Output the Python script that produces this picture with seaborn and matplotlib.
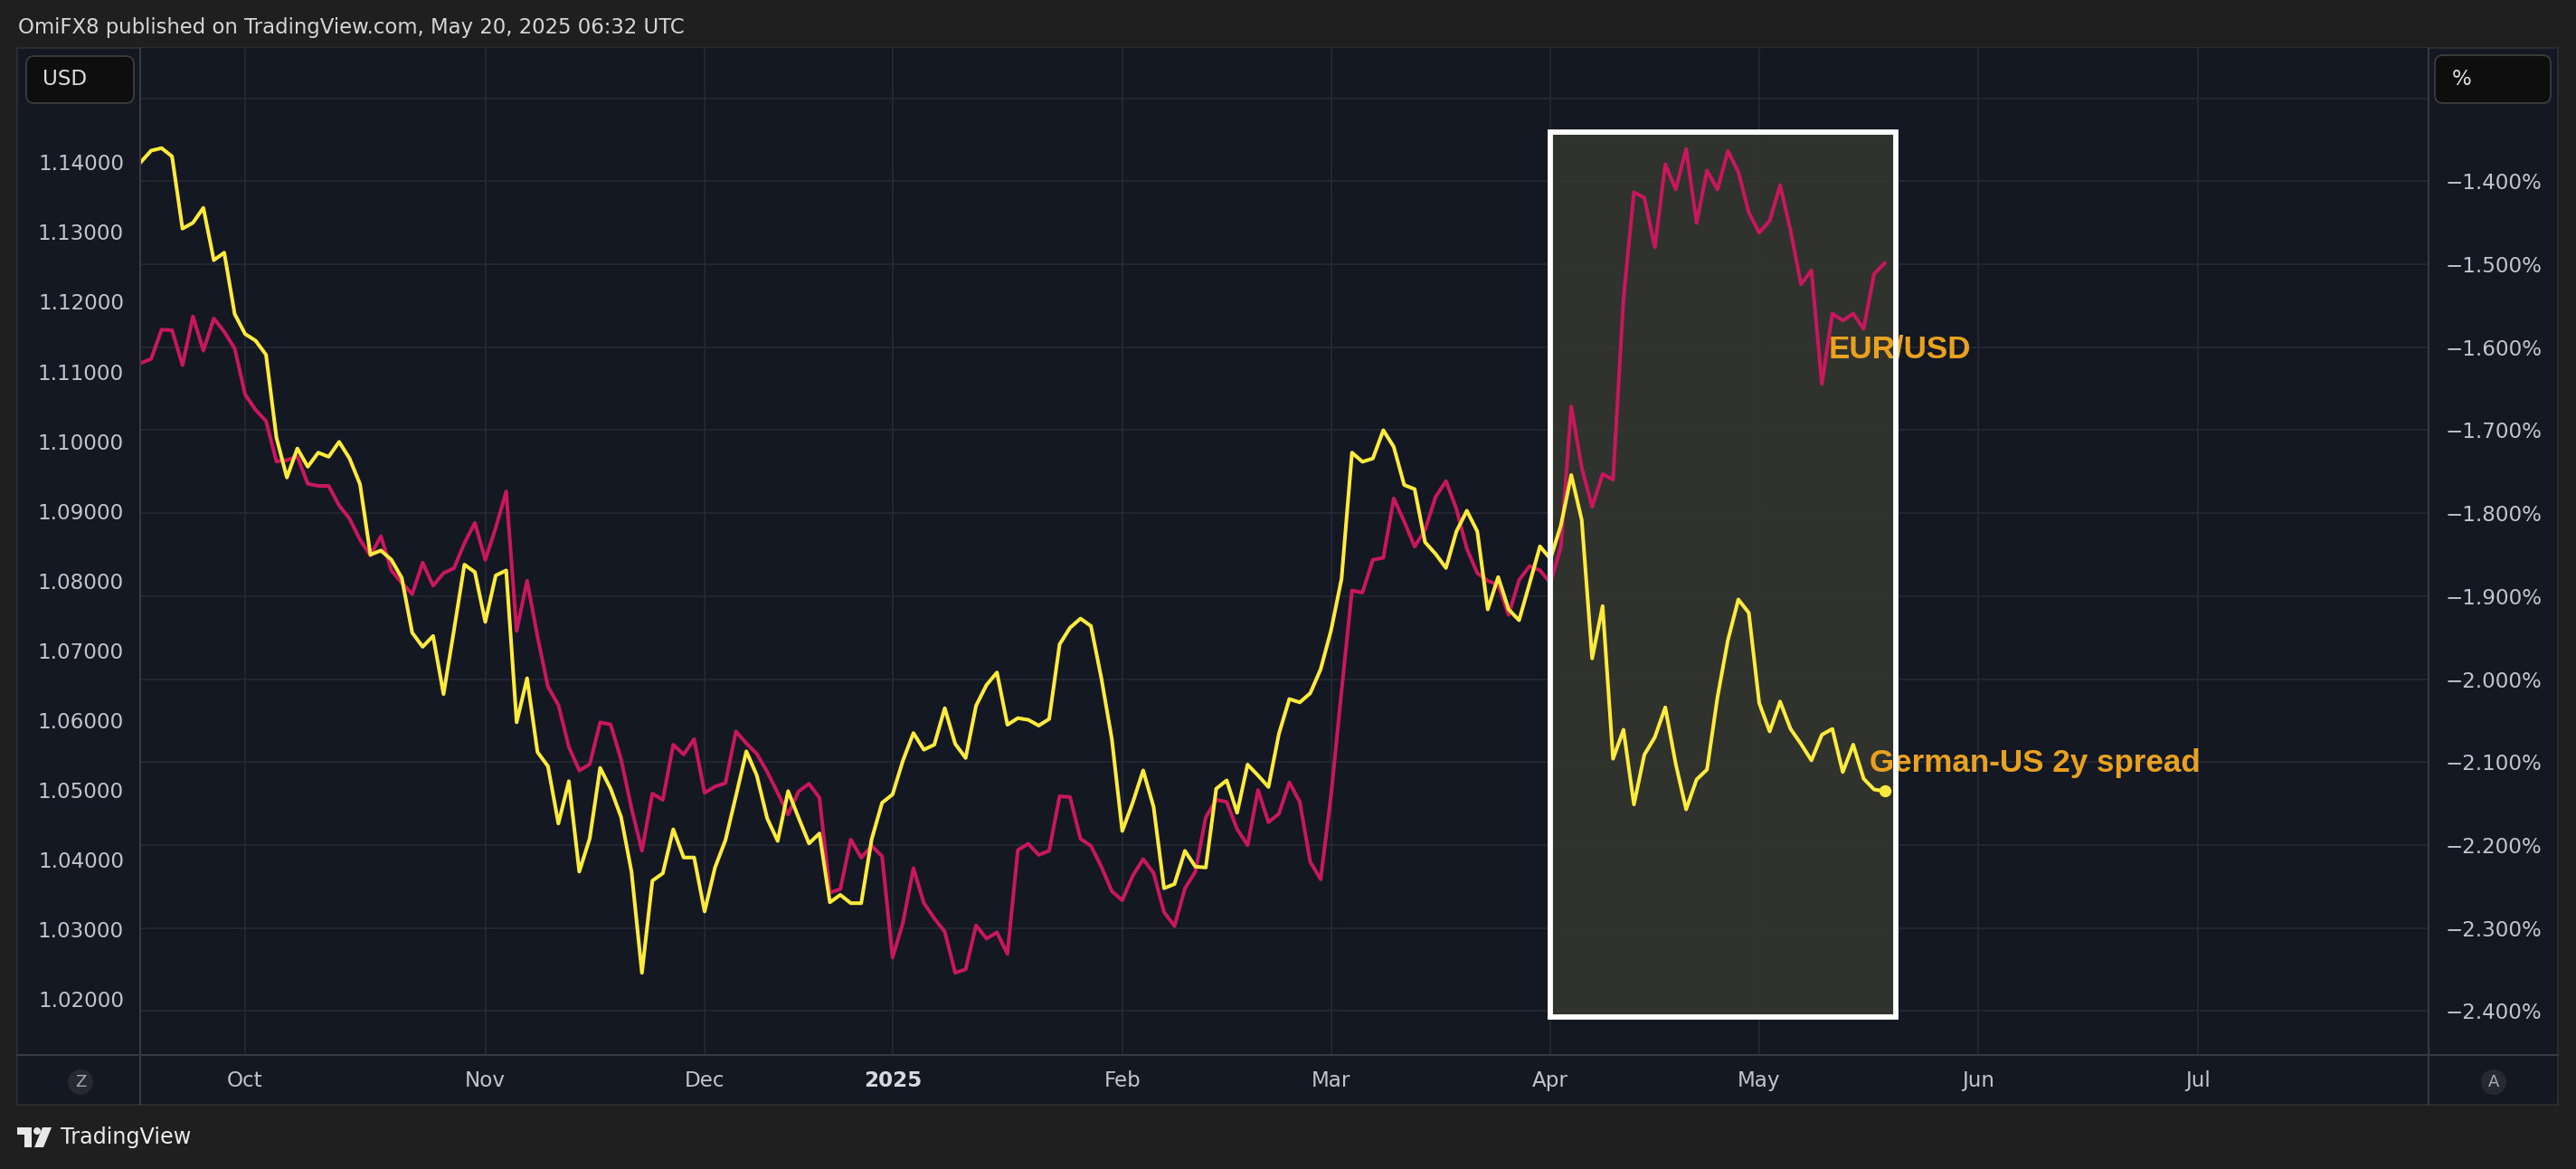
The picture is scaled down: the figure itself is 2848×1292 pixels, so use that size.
import numpy as np
import pandas as pd
import matplotlib
matplotlib.use("Agg")
import matplotlib.pyplot as plt
import matplotlib.transforms as mtransforms
from matplotlib.patches import Rectangle, FancyBboxPatch, Circle, Polygon
from matplotlib.lines import Line2D
import seaborn as sns

# ---------------- data ----------------
# trading calendar (Eurex-style holidays), Sep 17 2024 onwards
holidays = ["2024-12-24", "2024-12-25", "2024-12-26", "2024-12-31",
            "2025-01-01", "2025-04-18", "2025-04-21", "2025-05-01"]
calendar = pd.bdate_range("2024-09-17", "2025-08-29", freq="C", holidays=holidays)

eurusd = [
    1.1112, 1.1118, 1.1160, 1.1159, 1.1109, 1.1179, 1.1130, 1.1176, 1.1157, 1.1133,
    1.1067, 1.1045, 1.1029, 1.0971, 1.0973, 1.0978, 1.0939, 1.0936, 1.0936, 1.0908,
    1.0889, 1.0859, 1.0836, 1.0864, 1.0815, 1.0797, 1.0781, 1.0826, 1.0793, 1.0811,
    1.0818, 1.0854, 1.0883, 1.0830, 1.0876, 1.0928, 1.0728, 1.0800, 1.0720, 1.0648,
    1.0622, 1.0562, 1.0528, 1.0537, 1.0597, 1.0594, 1.0544, 1.0474, 1.0413, 1.0495,
    1.0486, 1.0565, 1.0551, 1.0573, 1.0496, 1.0505, 1.0510, 1.0584, 1.0567, 1.0552,
    1.0526, 1.0496, 1.0465, 1.0498, 1.0509, 1.0489, 1.0353, 1.0358, 1.0429, 1.0403,
    1.0420, 1.0405, 1.0260, 1.0310, 1.0388, 1.0338, 1.0316, 1.0297, 1.0238, 1.0243,
    1.0306, 1.0287, 1.0296, 1.0265, 1.0414, 1.0423, 1.0407, 1.0413, 1.0491, 1.0490,
    1.0430, 1.0420, 1.0390, 1.0355, 1.0342, 1.0377, 1.0401, 1.0381, 1.0325, 1.0305,
    1.0359, 1.0383, 1.0461, 1.0486, 1.0483, 1.0444, 1.0421, 1.0500, 1.0454, 1.0466,
    1.0511, 1.0483, 1.0397, 1.0372, 1.0493, 1.0642, 1.0786, 1.0783, 1.0830, 1.0833,
    1.0918, 1.0885, 1.0849, 1.0873, 1.0920, 1.0943, 1.0903, 1.0846, 1.0811, 1.0800,
    1.0794, 1.0751, 1.0801, 1.0821, 1.0815, 1.0797, 1.0848, 1.1050, 1.0962, 1.0906,
    1.0953, 1.0945, 1.1204, 1.1357, 1.1349, 1.1278, 1.1397, 1.1361, 1.1419, 1.1313,
    1.1388, 1.1361, 1.1416, 1.1386, 1.1328, 1.1299, 1.1316, 1.1367, 1.1302, 1.1225,
    1.1245, 1.1082, 1.1183, 1.1173, 1.1183, 1.1161, 1.1240, 1.1255,
]

spread_2y = [
    -1.377, -1.363, -1.360, -1.370, -1.457, -1.450, -1.432, -1.495, -1.486, -1.560,
    -1.584, -1.592, -1.609, -1.709, -1.757, -1.722, -1.744, -1.727, -1.732, -1.714,
    -1.734, -1.765, -1.850, -1.845, -1.856, -1.878, -1.944, -1.961, -1.948, -2.018,
    -1.941, -1.862, -1.871, -1.931, -1.875, -1.869, -2.052, -1.999, -2.088, -2.105,
    -2.174, -2.123, -2.232, -2.192, -2.107, -2.132, -2.166, -2.232, -2.354, -2.243,
    -2.234, -2.181, -2.215, -2.215, -2.280, -2.227, -2.194, -2.141, -2.087, -2.116,
    -2.168, -2.195, -2.135, -2.167, -2.198, -2.186, -2.269, -2.260, -2.270, -2.270,
    -2.193, -2.149, -2.139, -2.098, -2.065, -2.085, -2.079, -2.035, -2.078, -2.095,
    -2.032, -2.007, -1.992, -2.055, -2.047, -2.049, -2.056, -2.048, -1.958, -1.938,
    -1.927, -1.936, -1.999, -2.072, -2.183, -2.149, -2.110, -2.154, -2.252, -2.247,
    -2.207, -2.226, -2.227, -2.132, -2.122, -2.161, -2.103, -2.116, -2.130, -2.066,
    -2.024, -2.028, -2.017, -1.988, -1.941, -1.879, -1.727, -1.738, -1.734, -1.700,
    -1.720, -1.766, -1.771, -1.835, -1.849, -1.866, -1.822, -1.797, -1.822, -1.916,
    -1.877, -1.916, -1.929, -1.885, -1.840, -1.855, -1.815, -1.754, -1.808, -1.975,
    -1.912, -2.096, -2.061, -2.151, -2.091, -2.070, -2.034, -2.102, -2.157, -2.121,
    -2.109, -2.022, -1.953, -1.904, -1.920, -2.029, -2.063, -2.027, -2.060, -2.078,
    -2.098, -2.067, -2.060, -2.112, -2.079, -2.120, -2.133, -2.135,
]

month_labels = ["Oct", "Nov", "Dec", "2025", "Feb", "Mar", "Apr", "May", "Jun", "Jul"]
month_starts = pd.date_range("2024-10-01", "2025-07-01", freq="MS")
eur_ticks = [1.02, 1.03, 1.04, 1.05, 1.06, 1.07, 1.08, 1.09, 1.10, 1.11, 1.12, 1.13, 1.14]
spread_ticks = [-2.4, -2.3, -2.2, -2.1, -2.0, -1.9, -1.8, -1.7, -1.6, -1.5, -1.4, -1.3]

n = min(len(eurusd), len(spread_2y))
df = pd.DataFrame({
    "bar": np.arange(n),
    "date": calendar[:n],
    "EUR/USD": eurusd[:n],
    "spread": spread_2y[:n],
})
tick_pos = [int(np.searchsorted(calendar, m)) for m in month_starts]

# ---------------- style ----------------
W, H, DPI = 2848, 1292, 200
OUTER = "#1f1f1f"
BG = "#141823"
GRID = "#242935"
SEP = "#393a3f"
TXT = "#c2c4cb"
PINK = "#c9175e"
YELLOW = "#ffeb3b"
ORANGE = "#e9a21f"

plt.rcParams["font.family"] = ["DejaVu Sans"]

fig = plt.figure(figsize=(W / DPI, H / DPI), dpi=DPI, facecolor=OUTER)
PX = fig.dpi_scale_trans


def P(x, y):
    return (x / DPI, (H - y) / DPI)


# panel background
fig.add_artist(Rectangle(P(19, 1221), (2828 - 19) / DPI, (1221 - 53) / DPI,
                         transform=PX, facecolor=BG, edgecolor="#2d2d2d",
                         lw=0.7, zorder=-5))

ax = fig.add_axes([155 / W, 1 - 1166 / H, (2685 - 155) / W, (1166 - 53) / H])
ax.set_facecolor(BG)
ax2 = ax.twinx()

sns.lineplot(data=df, x="bar", y="EUR/USD", ax=ax, color=PINK, lw=1.45,
             estimator=None, zorder=3)
sns.lineplot(data=df, x="bar", y="spread", ax=ax2, color=YELLOW, lw=1.45,
             estimator=None, zorder=3)
ax2.plot(df["bar"].iloc[-1], df["spread"].iloc[-1], "o", ms=3.8,
         color=YELLOW, zorder=4)

for a in (ax, ax2):
    a.set_xlabel("")
    a.set_ylabel("")
    for s in a.spines.values():
        s.set_visible(False)

# grid
ax.set_axisbelow(True)
ax.set_xticks(tick_pos)
ax.set_xticklabels(month_labels)
ax.grid(axis="x", color=GRID, lw=0.6)
ax.grid(axis="y", visible=False)
ax2.grid(False)
hy = mtransforms.blended_transform_factory(ax.transAxes, ax2.transData)
for v in spread_ticks:
    ax.add_line(Line2D([0, 1], [v, v], transform=hy, color=GRID, lw=0.6, zorder=0.6))

# ticks
ax.set_yticks(eur_ticks)
ax.set_yticklabels([f"{v:.5f}" for v in eur_ticks])
ax2.set_yticks(spread_ticks)
ax2.set_yticklabels(["" if abs(v + 1.3) < 1e-9 else f"\u2212{abs(v):.3f}%" for v in spread_ticks])
ax.tick_params(axis="y", length=0, pad=6.5, labelsize=8.3, labelcolor=TXT)
ax2.tick_params(axis="y", length=0, pad=6.5, labelsize=8.3, labelcolor=TXT)
ax.tick_params(axis="x", length=0, pad=6.0, labelsize=8.3, labelcolor=TXT)
for lbl in ax.get_xticklabels():
    if lbl.get_text() == "2025":
        lbl.set_fontweight("bold")
        lbl.set_color("#d8dae0")

# highlight box
xy = mtransforms.blended_transform_factory(ax.transData, ax2.transData)
bx0, bx1, by0, by1 = 135.0, 168.06, -2.4072, -1.3408
ax.add_patch(Rectangle((bx0, by0), bx1 - bx0, by1 - by0, transform=xy,
                       facecolor="#35362f", edgecolor="none", alpha=0.88, zorder=1))
ax2.add_patch(Rectangle((bx0, by0), bx1 - bx0, by1 - by0, transform=xy,
                        facecolor="none", edgecolor="white", lw=2.1, zorder=6))

# series labels
ax.text(161.67, 1.1132, "EUR/USD", color=ORANGE, fontsize=12.6, fontweight="bold",
        family=["Liberation Sans", "DejaVu Sans"], ha="left", va="center", zorder=5)
ax2.text(165.6, -2.1008, "German-US 2y spread", color=ORANGE, fontsize=12.6,
         fontweight="bold", family=["Liberation Sans", "DejaVu Sans"],
         ha="left", va="center", zorder=5)

ax.set_xlim(-0.05, 219.1)
ax.set_ylim(1.01202, 1.15638)
ax2.set_ylim(-2.4530, -1.23926)

# separators
for (x0, y0, x1, y1) in [(155, 53, 155, 1221), (2685, 53, 2685, 1221), (19, 1166, 2828, 1166)]:
    fig.add_artist(Line2D([x0 / DPI, x1 / DPI], [(H - y0) / DPI, (H - y1) / DPI],
                          transform=PX, color=SEP, lw=0.75, zorder=8))

# unit boxes
for (x0, y0, x1, y1, s, tx) in [(29, 62, 148, 114, "USD", 47), (2692, 61, 2820, 114, "%", 2711)]:
    fig.add_artist(FancyBboxPatch(P(x0, y1), (x1 - x0) / DPI, (y1 - y0) / DPI,
                                  boxstyle="round,pad=0,rounding_size=0.045",
                                  transform=PX, facecolor="#0e0e0e",
                                  edgecolor="#3a3a3a", lw=0.7, zorder=10))
    fig.text(*P(tx, (y0 + y1) / 2), s, transform=PX, color="#dcdde2",
             fontsize=8.3, ha="left", va="center", zorder=11)

# Z / A buttons
for (cx, s) in [(89, "Z"), (2757, "A")]:
    fig.add_artist(Circle(P(cx, 1196), 14 / DPI, transform=PX, facecolor="#262932",
                          edgecolor="none", zorder=10))
    fig.text(*P(cx, 1196), s, transform=PX, color="#a9abb3", fontsize=6.5,
             ha="center", va="center", zorder=11)

# header
fig.text(*P(20, 31), "OmiFX8 published on TradingView.com, May 20, 2025 06:32 UTC",
         transform=PX, color="#d6d6d6", fontsize=8.2, ha="left", va="center")

# footer logo
logo = "#e8e8e8"
fig.add_artist(Polygon([P(19, 1246), P(35, 1246), P(35, 1268), P(27, 1268),
                        P(27, 1254), P(19, 1254)], closed=True, transform=PX,
                       facecolor=logo, edgecolor="none"))
fig.add_artist(Circle(P(41, 1250), 4 / DPI, transform=PX, facecolor=logo, edgecolor="none"))
fig.add_artist(Polygon([P(47, 1246), P(57, 1246), P(48, 1268), P(38, 1268)],
                       closed=True, transform=PX, facecolor=logo, edgecolor="none"))
fig.text(*P(67, 1257), "TradingView", transform=PX, color="#ececec",
         fontsize=8.6, ha="left", va="center")

fig.savefig("out.png", dpi=DPI, facecolor=OUTER)
